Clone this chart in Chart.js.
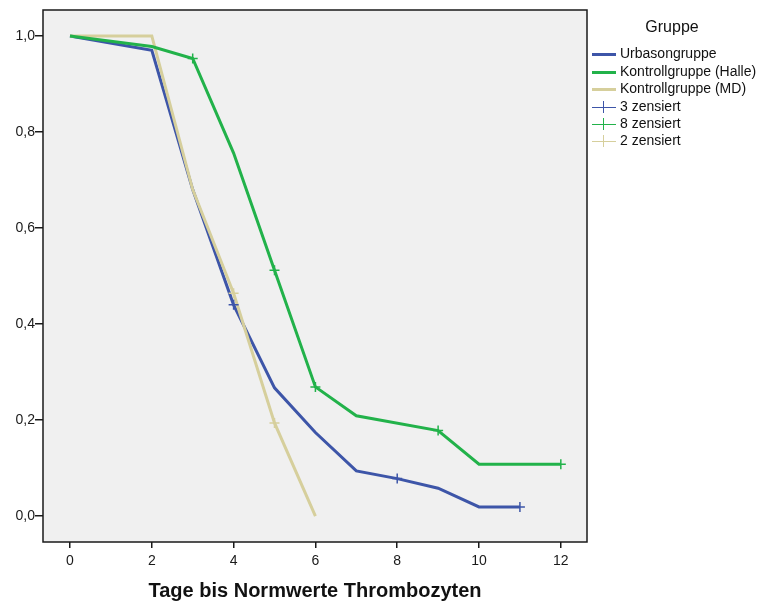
<!DOCTYPE html>
<html>
<head>
<meta charset="utf-8">
<script src="https://cdn.jsdelivr.net/npm/chart.js@4/dist/chart.umd.min.js"></script>
<style>
  body { margin: 0; background: #fff; font-family: "Liberation Sans", Arial, sans-serif; }
  #wrap { position: relative; width: 759px; height: 603px; }
  #legend { position: absolute; left: 588px; top: 0; width: 171px; color: #111; font-size: 14px; }
  #legend .title { position: absolute; left: 0; width: 168px; top: 18px; text-align: center; font-size: 16px; }
  #legend .item { position: absolute; left: 4px; height: 17px; white-space: nowrap; }
  #legend .sw { position: absolute; left: 0; width: 24px; }
  #legend .txt { position: absolute; left: 28px; top: 0; }
  #legend .vt { position: absolute; left: 11px; top: 3px; width: 1px; height: 12px; }
</style>
</head>
<body>
<div id="wrap">
  <canvas id="chartKM" width="759" height="603"></canvas>
  <div id="legend"></div>
</div>
<script>
// Gruppen / Kurven
const gruppen = ['Urbasongruppe', 'Kontrollgruppe (Halle)', 'Kontrollgruppe (MD)']
const farben = ['#3d55a8', '#22b24a', '#d6cf9c']
const zensiertLabels = ['3 zensiert', '8 zensiert', '2 zensiert']

const urbasonX = [0, 2, 3, 4, 5, 6, 7, 8, 9, 10, 11]
const urbasonY = [1.0, 0.97, 0.68, 0.44, 0.267, 0.174, 0.094, 0.078, 0.058, 0.019, 0.019]
const halleX = [0, 2, 3, 4, 5, 6, 7, 9, 10, 12]
const halleY = [1.0, 0.978, 0.953, 0.756, 0.512, 0.269, 0.209, 0.178, 0.108, 0.108]
const mdX = [0, 2, 3, 4, 5, 6]
const mdY = [1.0, 1.0, 0.68, 0.464, 0.194, 0.0]

// zensierte Faelle
const urbasonZensX = [4, 8, 11]
const urbasonZensY = [0.44, 0.078, 0.019]
const halleZensX = [3, 5, 6, 9, 12]
const halleZensY = [0.953, 0.512, 0.269, 0.178, 0.108]
const mdZensX = [4, 5]
const mdZensY = [0.464, 0.194]

const xTicks = [0, 2, 4, 6, 8, 10, 12]
const yTicks = [0.0, 0.2, 0.4, 0.6, 0.8, 1.0]

function pts(xs, ys) {
  return xs.map((x, i) => ({ x: x, y: ys[i] }))
}

function linie(data, color) {
  return { data: data, borderColor: color, borderWidth: 3, pointRadius: 0, showLine: true, tension: 0, fill: false }
}

function kreuze(data, color) {
  return { data: data, borderColor: color, borderWidth: 1.5, showLine: false, pointStyle: 'cross', pointRadius: 5, pointHoverRadius: 5 }
}

const plotBg = {
  id: 'plotBg',
  beforeDraw(chart) {
    const a = chart.chartArea, ctx = chart.ctx
    ctx.save()
    ctx.fillStyle = '#f0f0f0'
    ctx.fillRect(a.left, a.top, a.right - a.left, a.bottom - a.top)
    ctx.restore()
  },
  afterDatasetsDraw(chart) {
    const a = chart.chartArea, ctx = chart.ctx
    ctx.save()
    ctx.strokeStyle = '#1a1a1a'
    ctx.lineWidth = 1.5
    ctx.strokeRect(a.left, a.top, a.right - a.left, a.bottom - a.top)
    ctx.restore()
  }
}

// Chart.js zeichnet den ersten Datensatz zuletzt (oben)
const graphic = document.getElementById('chartKM')
let graphicKM = new Chart(graphic, {
  type: 'scatter',
  data: {
    datasets: [
      kreuze(pts(halleZensX, halleZensY), farben[1]),
      kreuze(pts(mdZensX, mdZensY), farben[2]),
      kreuze(pts(urbasonZensX, urbasonZensY), farben[0]),
      linie(pts(halleX, halleY), farben[1]),
      linie(pts(mdX, mdY), farben[2]),
      linie(pts(urbasonX, urbasonY), farben[0])
    ]
  },
  options: {
    responsive: false,
    animation: false,
    events: [],
    layout: { padding: { top: 10, right: 172, left: 0, bottom: 0 } },
    plugins: { legend: { display: false }, tooltip: { enabled: false } },
    scales: {
      x: {
        type: 'linear',
        min: -0.66,
        max: 12.64,
        afterBuildTicks: (s) => { s.ticks = xTicks.map(v => ({ value: v })) },
        afterFit: (s) => { s.height = 61 },
        grid: { drawOnChartArea: false, tickLength: 6, color: '#1a1a1a', lineWidth: 1.5 },
        border: { display: false },
        ticks: { color: '#1a1a1a', font: { family: 'Liberation Sans', size: 14 }, padding: 5 },
        title: {
          display: true,
          text: 'Tage bis Normwerte Thrombozyten',
          color: '#111',
          font: { family: 'Liberation Sans', size: 20, weight: 'bold' },
          padding: { top: 4, bottom: 0 }
        }
      },
      y: {
        type: 'linear',
        min: -0.054,
        max: 1.054,
        afterBuildTicks: (s) => { s.ticks = yTicks.map(v => ({ value: v })) },
        afterFit: (s) => { s.width = 43 },
        grid: { drawOnChartArea: false, tickLength: 8, color: '#1a1a1a', lineWidth: 1.5 },
        border: { display: false },
        ticks: {
          color: '#1a1a1a',
          font: { family: 'Liberation Sans', size: 14 },
          padding: 0,
          callback: (v) => v.toFixed(1).replace('.', ',')
        }
      }
    }
  },
  plugins: [plotBg]
})

// Legende
const legend = document.getElementById('legend')
const title = document.createElement('div')
title.className = 'title'
title.textContent = 'Gruppe'
legend.appendChild(title)

const rowsTop = [45, 63, 80, 98, 115, 132]
const items = gruppen.map((g, i) => ({ text: g, color: farben[i], zens: false }))
  .concat(zensiertLabels.map((z, i) => ({ text: z, color: farben[i], zens: true })))

items.forEach((it, i) => {
  const row = document.createElement('div')
  row.className = 'item'
  row.style.top = rowsTop[i] + 'px'
  const sw = document.createElement('div')
  sw.className = 'sw'
  sw.style.background = it.color
  sw.style.height = (it.zens ? 1 : 3) + 'px'
  sw.style.top = (it.zens ? 9 : 8) + 'px'
  row.appendChild(sw)
  if (it.zens) {
    const vt = document.createElement('div')
    vt.className = 'vt'
    vt.style.background = it.color
    row.appendChild(vt)
  }
  const txt = document.createElement('div')
  txt.className = 'txt'
  txt.textContent = it.text
  row.appendChild(txt)
  legend.appendChild(row)
})
</script>
</body>
</html>
